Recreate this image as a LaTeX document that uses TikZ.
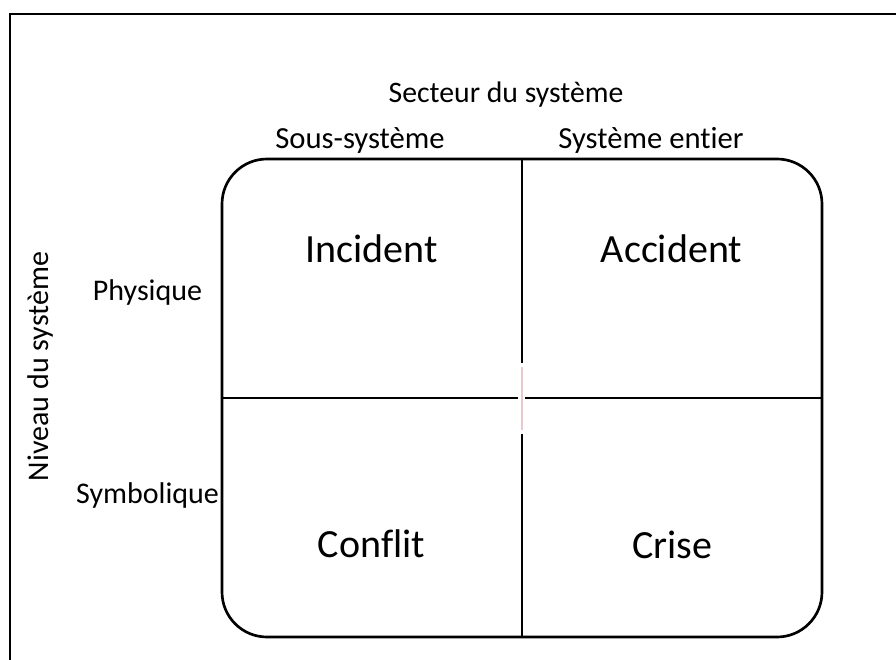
\documentclass[tikz,border=0pt]{standalone}
\usepackage{fontspec}
\setmainfont[Ligatures={NoCommon}]{Carlito}
\definecolor{gapline}{RGB}{232,202,206}
\begin{document}
\begin{tikzpicture}[x=0.75pt,y=-0.75pt,
  frame/.style={line width=2pt,black},
  divider/.style={line width=2pt,black},
  softdivider/.style={line width=1.2pt,gapline},
  lbl/.style={inner sep=0pt,anchor=base,font=\fontsize{22.5pt}{26pt}\selectfont},
  cell/.style={inner sep=0pt,anchor=base,font=\fontsize{30pt}{36pt}\selectfont}]
\useasboundingbox (0,0) rectangle (896,660);

% outer frame (only its left and top sides fall inside the page)
\draw[frame] (10,670) -- (10,14) -- (906,14);

% matrix outline
\draw[frame,rounded corners=33.75pt] (222,159) rectangle (822,637);

% dividers
\coordinate (vtop) at (522,159);
\coordinate (vbot) at (522,637);
\coordinate (hl) at (222,398);
\coordinate (hr) at (822,398);
\coordinate (va) at (522,363);
\coordinate (vb) at (522,367);
\coordinate (vc) at (522,430);
\coordinate (vd) at (522,434);
\coordinate (hm1) at (518,398);
\coordinate (hm2) at (525,398);
\draw[divider] (vtop) -- (va);
\draw[softdivider] (vb) -- (vc);
\draw[divider] (vd) -- (vbot);
\draw[divider] (hl) -- (hm1);
\draw[divider] (hm2) -- (hr);

% headings
\node[lbl,font=\fontsize{22.3pt}{26pt}\selectfont] (secteur) at (506,103) {Secteur du système};
\node[lbl,font=\fontsize{23pt}{27pt}\selectfont] (sous) at (360,148) {Sous-système};
\node[lbl,font=\fontsize{23pt}{27pt}\selectfont] (entier) at (651,148) {Système entier};
\node[lbl,rotate=90] (niveau) at (48,366.5) {Niveau du système};
\node[lbl,font=\fontsize{22.5pt}{26pt}\selectfont] (phys) at (147.5,300) {Physique};
\node[lbl,font=\fontsize{22.5pt}{26pt}\selectfont] (symb) at (147.5,503) {Symbolique};

% cells
\node[cell] (incident) at (371.5,262) {Incident};
\node[cell] (accident) at (671.5,262) {Accident};
\node[cell] (conflit) at (371.5,557) {Conflit};
\node[cell] (crise) at (672,558) {Crise};
\end{tikzpicture}
\end{document}
